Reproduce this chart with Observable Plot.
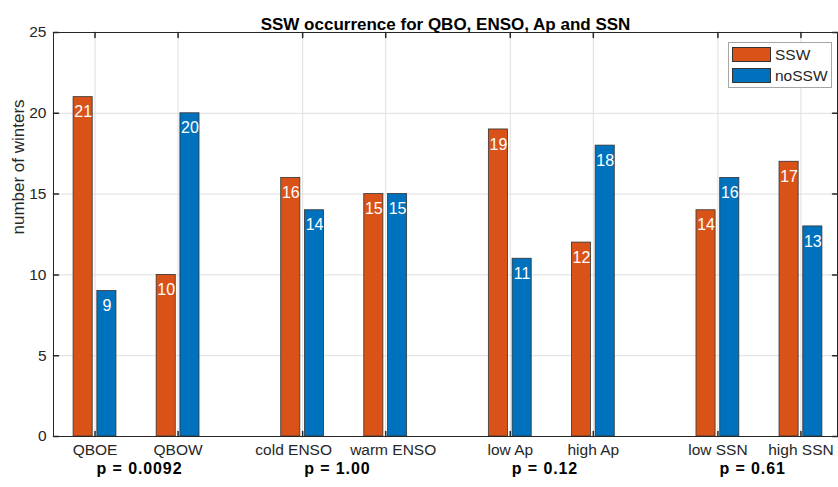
<!DOCTYPE html>
<html><head><meta charset="utf-8">
<script src="https://cdn.jsdelivr.net/npm/d3@7"></script>
<script src="https://cdn.jsdelivr.net/npm/@observablehq/plot@0.6"></script>
<style>
body{margin:0;background:#fff;}
#wrap{position:relative;width:838px;height:487px;font-family:"Liberation Sans",Arial,Helvetica,sans-serif;}
#legend{position:absolute;left:728px;top:42px;width:104px;height:46px;box-sizing:border-box;border:1px solid #a6a6a6;background:#fff;}
.sw{position:absolute;left:3px;width:39px;height:15px;box-sizing:border-box;border:1px solid #333;}
.lt{position:absolute;left:46px;font-size:15.5px;color:#262626;line-height:15px;}
</style></head>
<body><div id="wrap"></div>
<script>
const categories = ["QBOE","QBOW","cold ENSO","warm ENSO","low Ap","high Ap","low SSN","high SSN"];
const ssw   = [21,10,16,15,19,12,14,17];
const nossw = [9,20,14,15,11,18,16,13];
const pLabels = ["p = 0.0092","p = 1.00","p = 0.12","p = 0.61"];
const yTicks = [0,5,10,15,20,25];
const seriesNames = ["SSW","noSSW"];
const seriesColors = ["#D95319","#0072BD"];
const title = "SSW occurrence for QBO, ENSO, Ap and SSN";
const yLabel = "number of winters";

const pos = i => 1 + i + Math.floor(i/2)*0.5;
const W = 0.23, OFF = 0.143;
// the two ENSO labels sit slightly off their ticks in the original
const labelShift = c => c === "cold ENSO" ? -9 : c === "warm ENSO" ? 7.5 : 0;
const rows = [];
categories.forEach((c,i)=>{
  rows.push({cat:c, series:seriesNames[0], value:ssw[i], x:pos(i)-OFF});
  rows.push({cat:c, series:seriesNames[1], value:nossw[i], x:pos(i)+OFF});
});
const xTicks = categories.map((c,i)=>pos(i));
const pRows = pLabels.map((p,g)=>({p, x:pos(2*g)}));
const tickShape = {draw(ctx,l){ctx.moveTo(0,0);ctx.lineTo(0,-l);}};
const ink = "#262626";
const font = "Liberation Sans, Arial, Helvetica, sans-serif";

const chart = Plot.plot({
  width: 838, height: 487,
  marginLeft: 53, marginRight: 1, marginTop: 32, marginBottom: 51,
  style: {fontFamily: font, background: "#fff", color: ink},
  x: {domain: [0.5, 9.94], axis: null},
  y: {domain: [0, 25], axis: null},
  color: {domain: seriesNames, range: seriesColors},
  marks: [
    Plot.gridY(yTicks, {stroke: "#dfdfdf", strokeOpacity: 1, strokeWidth: 1}),
    Plot.gridX(xTicks, {stroke: "#dfdfdf", strokeOpacity: 1, strokeWidth: 1}),
    Plot.rect(rows, {x1: d=>d.x-W/2, x2: d=>d.x+W/2, y1: 0, y2: "value", fill: "series", stroke: "#333", strokeWidth: 0.8}),
    Plot.text(rows, {x: "x", y: "value", text: d=>String(d.value), dy: 15, fill: "white", fontSize: 16}),
    Plot.frame({stroke: ink, strokeWidth: 1}),
    Plot.vector(yTicks, {y: d=>d, frameAnchor: "left", rotate: 90, length: 5, anchor: "start", shape: tickShape, stroke: ink}),
    Plot.vector(yTicks, {y: d=>d, frameAnchor: "right", rotate: -90, length: 5, anchor: "start", shape: tickShape, stroke: ink}),
    Plot.vector(xTicks, {x: d=>d, frameAnchor: "bottom", rotate: 0, length: 5, anchor: "start", shape: tickShape, stroke: ink}),
    Plot.vector(xTicks, {x: d=>d, frameAnchor: "top", rotate: 180, length: 5, anchor: "start", shape: tickShape, stroke: ink}),
    Plot.text(yTicks, {y: d=>d, text: d=>String(d), frameAnchor: "left", textAnchor: "end", dx: -7, fontSize: 15.5, fill: ink}),
    ...categories.map((c,i)=>Plot.text([c], {x: pos(i), text: d=>d, frameAnchor: "bottom", dy: 18, dx: labelShift(c), fontSize: 15.5, fill: ink})),
    Plot.text(pRows, {x: "x", text: "p", frameAnchor: "bottom", textAnchor: "start", dy: 37.5, dx: 1.5, fontSize: 16, fontWeight: "bold", fill: "#000", style: "letter-spacing:0.9px"}),
    Plot.text([title], {frameAnchor: "top", dy: -14.5, fontSize: 17, fontWeight: "bold", fill: "#000"}),
    Plot.text([yLabel], {frameAnchor: "left", rotate: -90, dx: -34.5, fontSize: 17, fill: ink})
  ]
});
chart.querySelectorAll("text").forEach(t=>{ if (t.textContent.startsWith("p = ")) t.style.letterSpacing = "0.9px"; });
const wrap = document.getElementById("wrap");
wrap.appendChild(chart);
const lg = document.createElement("div");
lg.id = "legend";
seriesNames.forEach((s,i)=>{
  const sw = document.createElement("div");
  sw.className = "sw"; sw.style.top = (4 + i*20.5) + "px"; sw.style.background = seriesColors[i];
  const t = document.createElement("div");
  t.className = "lt"; t.style.top = (4 + i*20.5) + "px"; t.textContent = s;
  lg.appendChild(sw); lg.appendChild(t);
});
wrap.appendChild(lg);
</script></body></html>
